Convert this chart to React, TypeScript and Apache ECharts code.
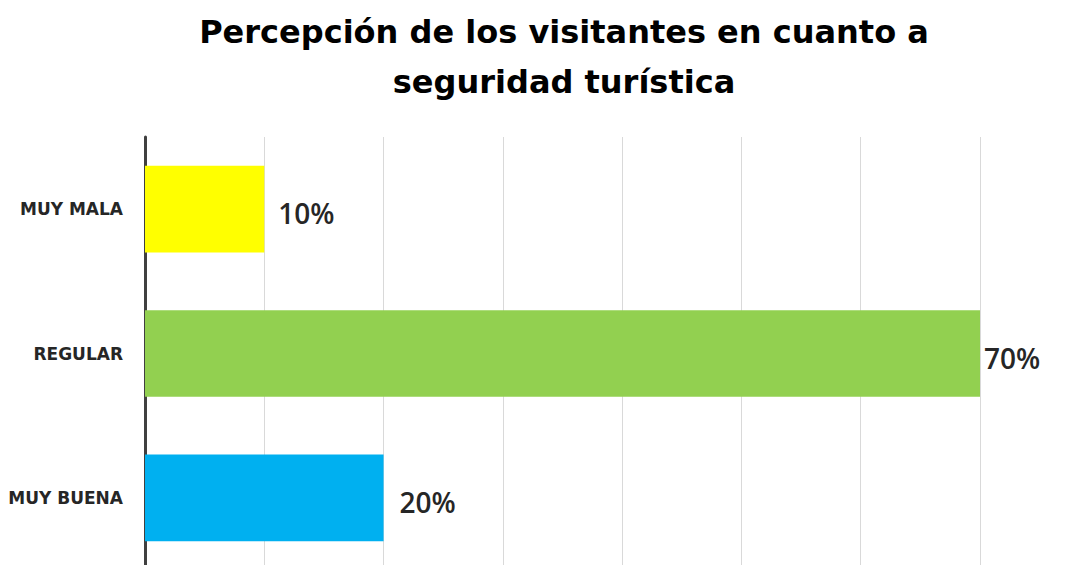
import React, { useEffect, useRef } from "react";
import * as echarts from "echarts";

const titleText = "Percepción de los visitantes en cuanto a\nseguridad turística";
const categories = ["MUY BUENA", "REGULAR", "MUY MALA"];
const values = [20, 70, 10];
const barColors = ["#00B0F0", "#92D050", "#FFFF00"];
const labelDistances = [16, 4, 14];

export default function App() {
  const ref = useRef<HTMLDivElement>(null);
  useEffect(() => {
    if (!ref.current) return;
    const chart = echarts.init(ref.current, null, { renderer: "svg" });
    chart.setOption({
      animation: false,
      backgroundColor: "#ffffff",
      title: {
        text: titleText,
        top: 2,
        left: 559,
        textAlign: "center",
        textStyle: {
          fontFamily: "DejaVu Sans",
          fontWeight: "bold",
          fontSize: 32,
          lineHeight: 50,
          color: "#000000",
        },
      },
      grid: { left: 145, right: 110, top: 137, bottom: 5, containLabel: false },
      xAxis: {
        type: "value",
        min: 0,
        max: 70,
        interval: 10,
        axisLabel: { show: false },
        axisLine: { show: false },
        axisTick: { show: false },
        splitLine: { show: true, lineStyle: { color: "#d9d9d9", width: 1 } },
      },
      yAxis: {
        type: "category",
        data: categories,
        axisLine: { show: true, lineStyle: { color: "#404040", width: 3 } },
        axisTick: { show: false },
        axisLabel: {
          fontFamily: "DejaVu Sans",
          fontWeight: "bold",
          fontSize: 17,
          color: "#262626",
          margin: 22,
        },
      },
      series: [
        {
          type: "bar",
          barCategoryGap: "40%",
          data: values.map((v, i) => ({
            value: v,
            itemStyle: { color: barColors[i] },
            label: { distance: labelDistances[i] },
          })),
          label: {
            show: true,
            position: "right",
            formatter: "{c}%",
            fontFamily: "Open Sans",
            fontSize: 28,
            fontWeight: 600,
            color: "#262626",
            offset: [0, 4],
          },
        },
      ],
    });
    return () => chart.dispose();
  }, []);
  return <div ref={ref} style={{ width: 1090, height: 575, position: "fixed", left: 0, top: 0 }} />;
}
